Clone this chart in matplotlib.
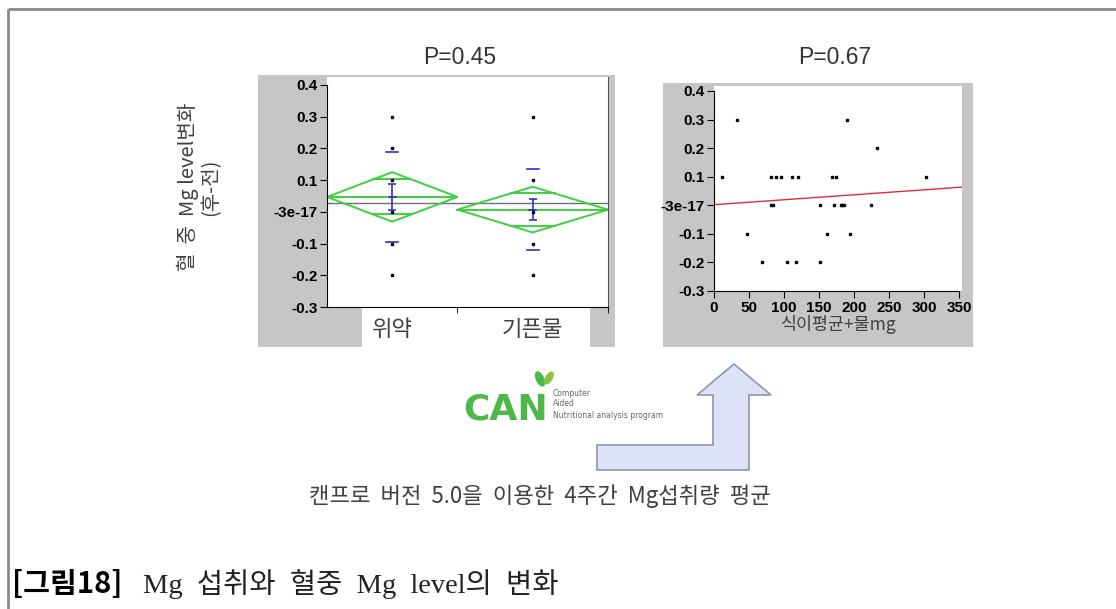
import numpy as np
import matplotlib
matplotlib.use('Agg')
import matplotlib.pyplot as plt
from matplotlib.patches import Rectangle, Polygon, Ellipse

plt.rcParams['font.family'] = ['Noto Sans CJK KR', 'DejaVu Sans']
plt.rcParams['axes.unicode_minus'] = False

# ---- data ----
groups = ['위약', '기픈물']
group_n = [13, 15]
group_mean = [0.047, 0.007]
group_ci = [0.078, 0.072]       # half height of the mean diamond
group_se = [0.040, 0.033]
group_sd = [0.143, 0.128]
grand_mean = 0.028
pts_placebo = [0.3, 0.2, 0.1, 0.0, -0.1, -0.2]
pts_water = [0.3, 0.1, 0.0, -0.1, -0.2]

scat_x = [33, 190, 232,
          11, 82, 89, 96, 111, 120, 169, 174, 303,
          82, 84, 152, 172, 181, 183, 186, 224,
          47, 162, 194,
          69, 104, 117, 151]
scat_y = [0.3, 0.3, 0.2,
          0.1, 0.1, 0.1, 0.1, 0.1, 0.1, 0.1, 0.1, 0.1,
          0.0, 0.0, 0.0, 0.0, 0.0, 0.0, 0.0, 0.0,
          -0.1, -0.1, -0.1,
          -0.2, -0.2, -0.2, -0.2]
fit_intercept = 0.002
fit_slope = 0.000174

yticks = [-0.3, -0.2, -0.1, 0.0, 0.1, 0.2, 0.3, 0.4]
ytick_labels = ['-0.3', '-0.2', '-0.1', '-3e-17', '0.1', '0.2', '0.3', '0.4']
xticks_right = [0, 50, 100, 150, 200, 250, 300, 350]

W, H = 1116, 609
GRAY = '#c6c6c6'
TXT = '#404040'
GREEN = '#3fcf3f'
BLUE = '#3030c8'


def frac(x0, y0, x1, y1):
    return [x0 / W, 1 - y1 / H, (x1 - x0) / W, (y1 - y0) / H]


def bold_ticks(labels, size=11):
    for lab in labels:
        lab.set_family('Liberation Sans')
        lab.set_fontweight('bold')
        lab.set_fontsize(size)


fig = plt.figure(figsize=(W / 100, H / 100), dpi=100)

# background layer in pixel coordinates
bg = fig.add_axes([0, 0, 1, 1])
bg.set_xlim(0, W)
bg.set_ylim(H, 0)
bg.axis('off')
bg.set_zorder(-1)

bg.plot([8, W], [9, 9], color='#8a8a8a', lw=2, solid_capstyle='butt')
bg.plot([8, 8], [9, H], color='#8a8a8a', lw=2, solid_capstyle='butt')

bg.add_patch(Rectangle((258, 75), 357, 272, color=GRAY, lw=0))
bg.add_patch(Rectangle((362, 307), 228, 40, color='white', lw=0))
bg.add_patch(Rectangle((663, 83), 310, 264, color=GRAY, lw=0))

bg.text(460, 57, 'P=0.45', ha='center', va='center', fontsize=16.5,
        family='Liberation Sans', color='#333333')
bg.text(835, 57, 'P=0.67', ha='center', va='center', fontsize=16.5,
        family='Liberation Sans', color='#333333')

bg.text(199, 187, '혈  중  Mg level변화\n(후-전)', rotation=90, ha='center',
        va='center', fontsize=14.5, color=TXT, linespacing=1.05,
        multialignment='center')

# arrow
arrow = [(597, 445), (713, 445), (713, 395), (697, 395), (734, 364),
         (771, 395), (749, 395), (749, 470), (597, 470)]
bg.add_patch(Polygon(arrow, closed=True, facecolor='#dde2f6',
                     edgecolor='#8d95b5', lw=1.2))

# logo
bg.text(463, 420, 'CAN', ha='left', va='baseline', fontsize=26,
        fontweight='bold', family='DejaVu Sans', color='#4cb848')
bg.add_patch(Ellipse((540, 379), 7, 15, angle=-25, color='#4cb848'))
bg.add_patch(Ellipse((549, 378), 6, 13, angle=30, color='#8cc63f'))
for yy, s in zip([394, 404, 415], ['Computer', 'Aided',
                                   'Nutritional analysis program']):
    bg.text(553, yy, s, ha='left', va='center', fontsize=5.5,
            family='DejaVu Sans', color='#666666')

bg.text(540, 496, '캔프로  버전  5.0을  이용한  4주간  Mg섭취량  평균',
        ha='center', va='center', fontsize=16, color=TXT)

bg.text(12, 584, '[그림18]', ha='left', va='center', fontsize=21,
        fontweight='bold', color='black')
bg.text(143, 584, 'Mg  섭취와  혈중  Mg  level의  변화', ha='left',
        va='center', fontsize=20.5,
        family=['Liberation Serif', 'Noto Sans CJK KR'], color='#222222')

# ---- left: one-way means diamonds ----
ax1 = fig.add_axes(frac(327, 77, 608, 307))
ax1.set_xlim(0, sum(group_n))
ax1.set_ylim(-0.3, 0.425)
edges = np.concatenate([[0], np.cumsum(group_n)])
centers = (edges[:-1] + edges[1:]) / 2

ax1.axhline(grand_mean, color='#707070', lw=1, zorder=1)
k = 1 / np.sqrt(2)
for i in range(len(groups)):
    x0, x1, xc = edges[i], edges[i + 1], centers[i]
    m, h = group_mean[i], group_ci[i]
    ax1.add_patch(Polygon([(x0, m), (xc, m + h), (x1, m), (xc, m - h)],
                          closed=True, fill=False, edgecolor=GREEN, lw=1.4,
                          zorder=2))
    ax1.plot([x0, x1], [m, m], color=GREEN, lw=1.4, zorder=2)
    half = (1 - k) * (x1 - x0) / 2
    for yy in (m + k * h, m - k * h):
        ax1.plot([xc - half, xc + half], [yy, yy], color=GREEN, lw=1.4,
                 zorder=2)
    ax1.errorbar(xc, m, yerr=group_se[i], color=BLUE, lw=1.2, capsize=3,
                 capthick=1.2, zorder=3)
    ax1.plot([xc - 0.35, xc + 0.35], [m, m], color=BLUE, lw=1.2, zorder=3)
    for yy in (m + group_sd[i], m - group_sd[i]):
        ax1.plot([xc - 0.6, xc + 0.6], [yy, yy], color=BLUE, lw=1.2,
                 zorder=3)

ax1.plot([centers[0]] * len(pts_placebo), pts_placebo, 's', color='black',
         ms=2, zorder=4)
ax1.plot([centers[1]] * len(pts_water), pts_water, 's', color='black',
         ms=2, zorder=4)

ax1.spines['top'].set_visible(False)
ax1.spines['right'].set_color('#555555')
ax1.spines['left'].set_bounds(-0.3, 0.4)
ax1.set_yticks(yticks)
ax1.set_yticklabels(ytick_labels)
ax1.set_xticks(centers)
ax1.set_xticklabels(groups, fontsize=16, color=TXT)
ax1.set_xticks(edges[1:], minor=True)
ax1.tick_params(axis='x', which='major', length=0, pad=8)
ax1.tick_params(axis='x', which='minor', length=4, direction='out')
ax1.tick_params(axis='y', length=5, pad=2)
bold_ticks(ax1.get_yticklabels())

# ---- right: scatter with fit ----
ax2 = fig.add_axes(frac(714, 86, 962, 291))
ax2.set_xlim(0, 354)
ax2.set_ylim(-0.3, 0.4175)
ax2.plot(scat_x, scat_y, 's', color='black', ms=2, zorder=3)
xx = np.array([0, 354])
ax2.plot(xx, fit_intercept + fit_slope * xx, color='#e8283a', lw=1, zorder=2)
ax2.spines['top'].set_visible(False)
ax2.spines['right'].set_visible(False)
ax2.spines['left'].set_bounds(-0.3, 0.4)
ax2.spines['bottom'].set_bounds(0, 350)
ax2.set_yticks(yticks)
ax2.set_yticklabels(ytick_labels)
ax2.set_xticks(xticks_right)
ax2.tick_params(length=5, pad=2)
bold_ticks(ax2.get_yticklabels() + ax2.get_xticklabels())
ax2.set_xlabel('식이평균+물mg', fontsize=12.5, color=TXT, labelpad=0)

fig.savefig('out.png', dpi=100)
